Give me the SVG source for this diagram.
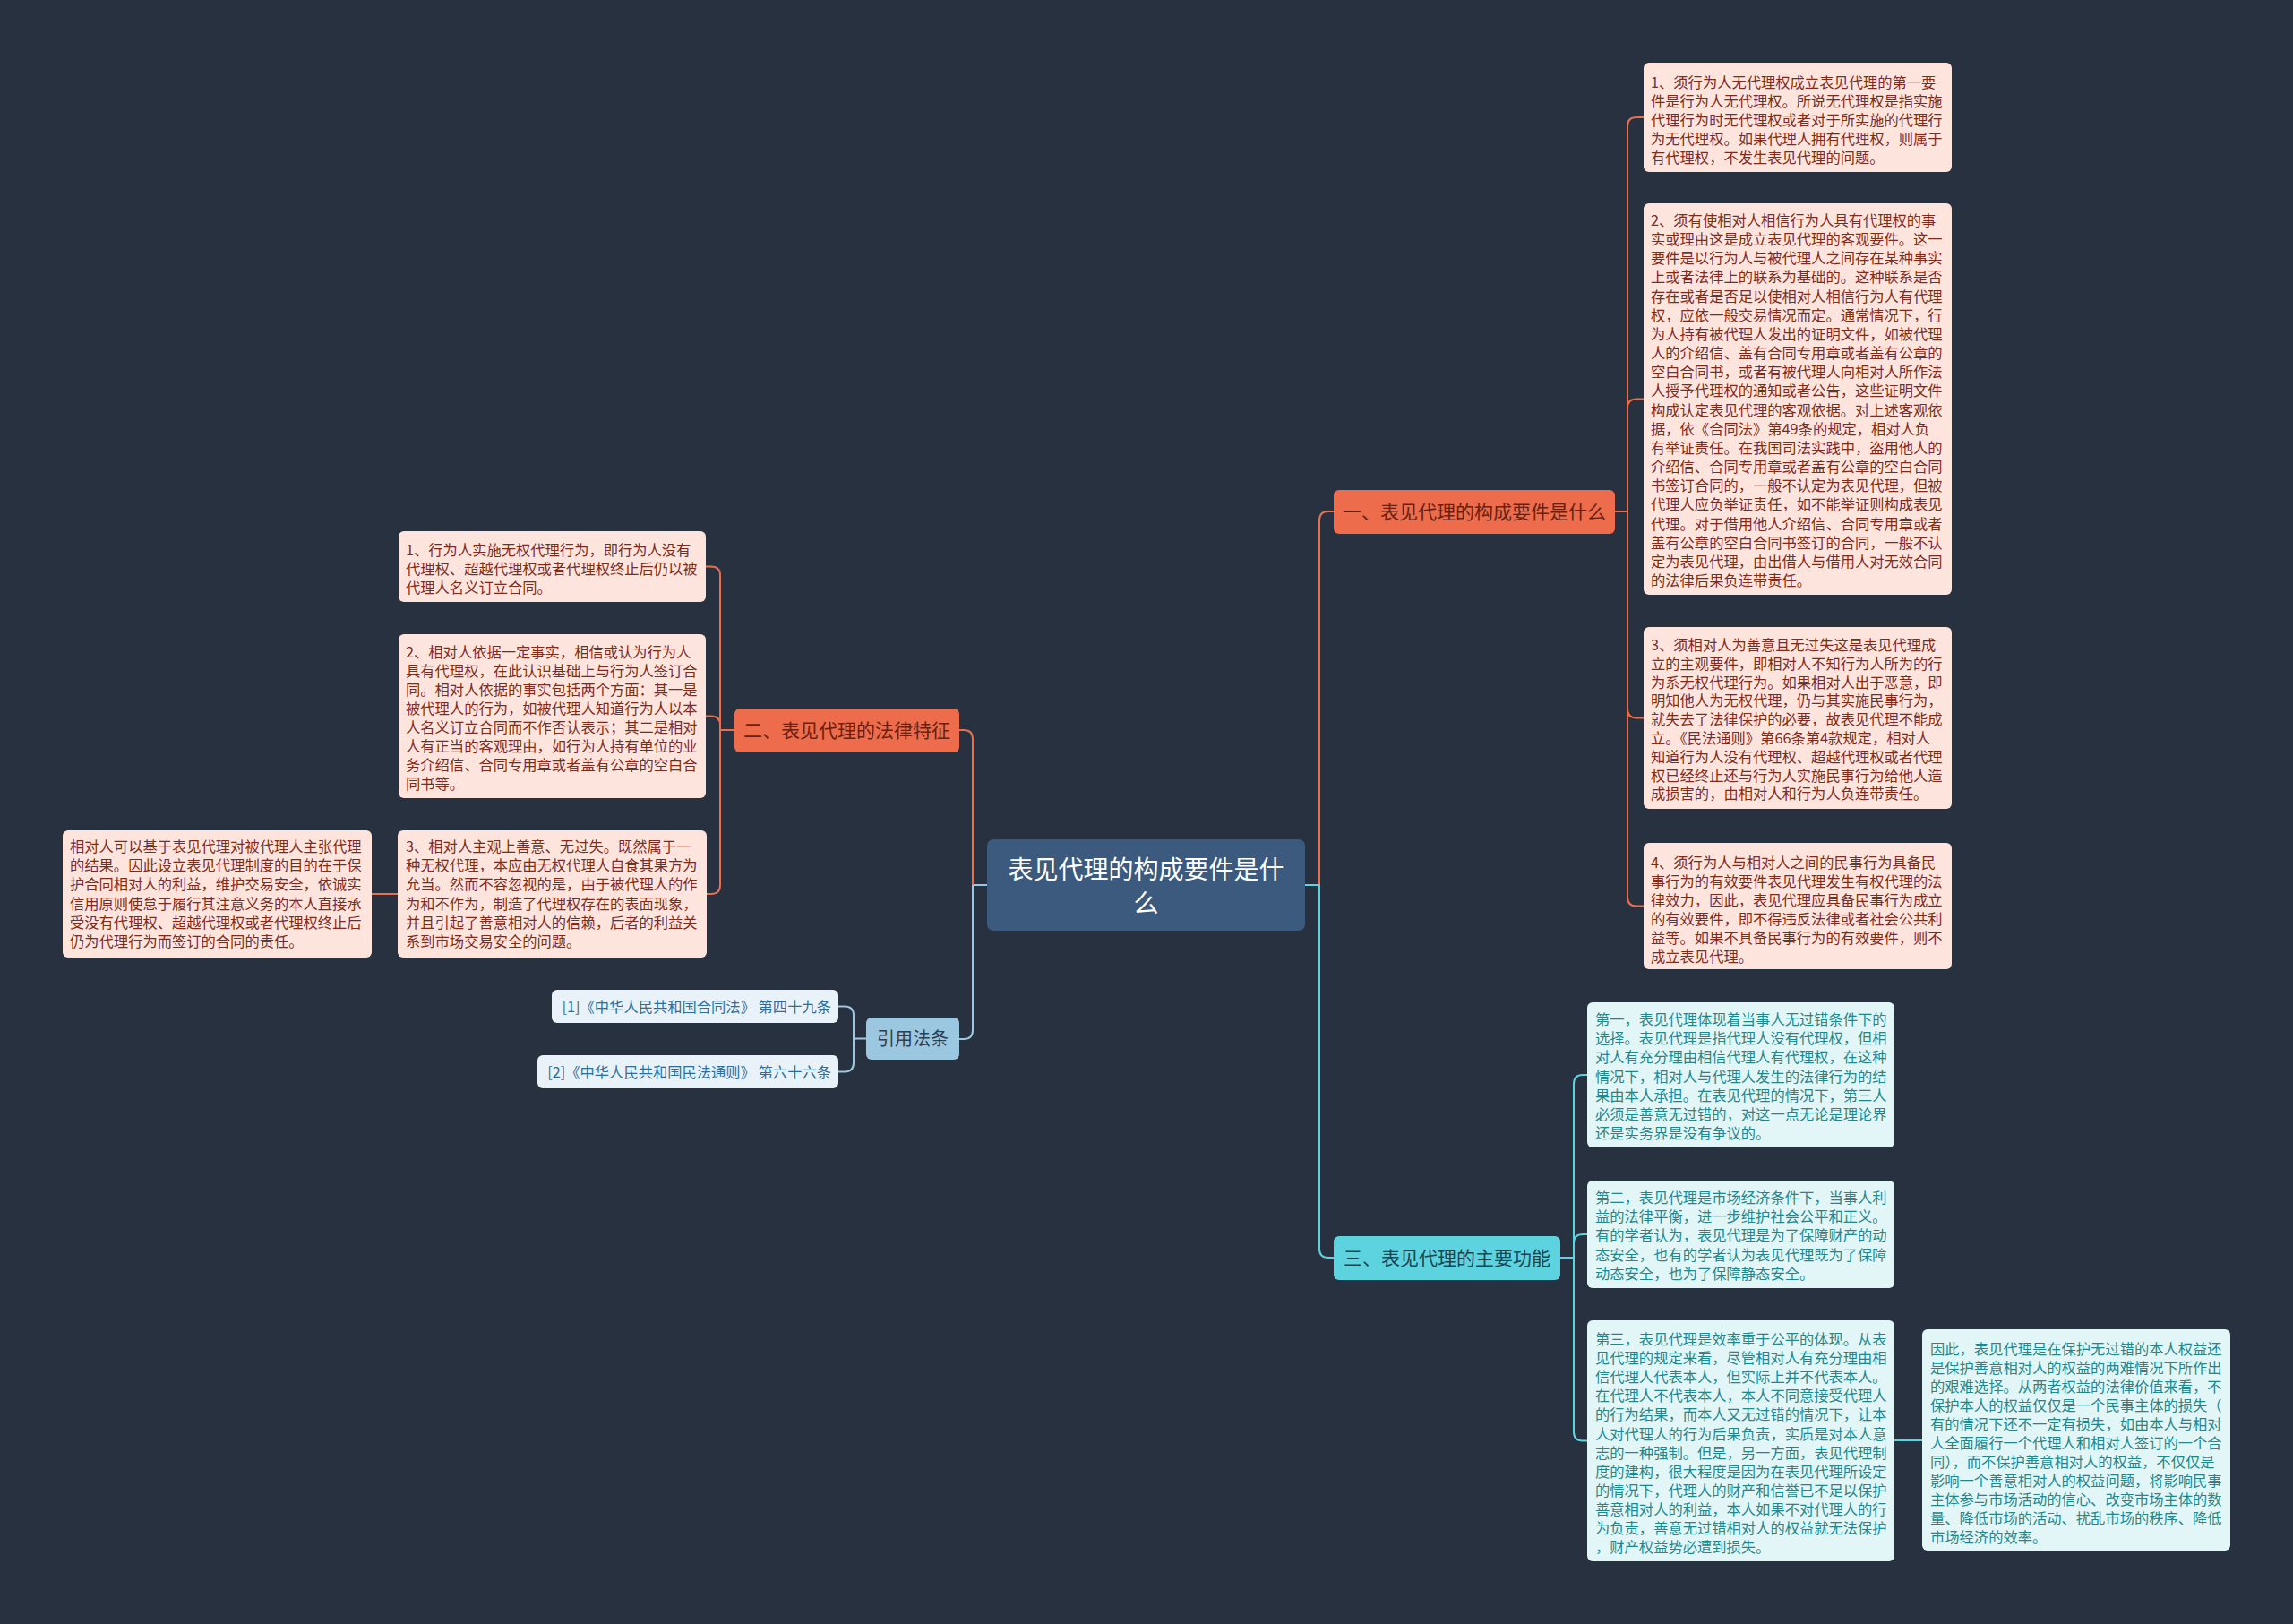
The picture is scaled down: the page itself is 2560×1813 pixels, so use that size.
<svg xmlns="http://www.w3.org/2000/svg" width="2560" height="1813" viewBox="0 0 2560 1813">
<style>
text{font-family:"Noto Sans CJK SC","Noto Sans",sans-serif;}
.pk{fill:#fde5de;}
.pt{fill:#7d2b1c;font-size:16.3px;}
.cy{fill:#e2f6f8;}
.ct{fill:#22878b;font-size:16.3px;}
.rf{fill:#e8f2f8;}
.rt{fill:#2f6e9a;font-size:16.3px;}
.or{fill:#ec6c4c;}
.ot{fill:#6a1f10;font-size:21px;}
.cb{fill:#5ed3e0;}
.cbt{fill:#1b4650;font-size:21px;}
.lo{fill:none;stroke:#e8704f;stroke-width:2;}
.lc{fill:none;stroke:#5ed3e0;stroke-width:2;}
.lb{fill:none;stroke:#9cc7e0;stroke-width:2;}
</style>
<rect width="2560" height="1813" fill="#283140"/>
<g id="connectors">
<path class="lo" d="M1473,988 V581 Q1473,571 1483,571 H1489"/>
<path class="lc" d="M1457,988 H1473 V1394 Q1473,1404 1483,1404 H1489"/>
<path class="lb" d="M1102,988 H1086 V1150 Q1086,1160 1076,1160 H1071"/>
<path class="lo" d="M1086,988 V825 Q1086,815 1076,815 H1071"/>
<path class="lo" d="M1803,571 H1817 V141 Q1817,131 1827,131 H1835"/>
<path class="lo" d="M1817,571 V455.5 Q1817,445.5 1827,445.5 H1835"/>
<path class="lo" d="M1817,571 V791.5 Q1817,801.5 1827,801.5 H1835"/>
<path class="lo" d="M1817,571 V1001.5 Q1817,1011.5 1827,1011.5 H1835"/>
<path class="lc" d="M1742,1404 H1757 V1210 Q1757,1200 1767,1200 H1772"/>
<path class="lc" d="M1757,1404 V1388 Q1757,1378 1767,1378 H1772"/>
<path class="lc" d="M1757,1404 V1598.5 Q1757,1608.5 1767,1608.5 H1772"/>
<path class="lc" d="M2115,1608 H2146"/>
<path class="lo" d="M820,815 H804 V642.5 Q804,632.5 794,632.5 H788"/>
<path class="lo" d="M804,815 V809.5 Q804,799.5 794,799.5 H788"/>
<path class="lo" d="M804,815 V988 Q804,998 794,998 H789"/>
<path class="lo" d="M444,998 H415"/>
<path class="lb" d="M967,1159.5 H953 V1133.5 Q953,1123.5 943,1123.5 H936"/>
<path class="lb" d="M953,1159.5 V1186.5 Q953,1196.5 943,1196.5 H936"/>
</g>
<g id="root">
<rect x="1102" y="937" width="355" height="102" rx="7" fill="#3c5a7e"/>
<text x="1279.5" y="981" font-size="28" fill="#ffffff" text-anchor="middle">表见代理的构成要件是什</text>
<text x="1279.5" y="1019" font-size="28" fill="#ffffff" text-anchor="middle">么</text>
</g>
<g id="b1">
<rect class="or" x="1489" y="547" width="314" height="49" rx="6"/>
<text class="ot" x="1646" y="579" text-anchor="middle">一、表见代理的构成要件是什么</text>
</g>
<g id="b2">
<rect class="or" x="820" y="791" width="251" height="49" rx="6"/>
<text class="ot" x="945.5" y="823" text-anchor="middle">二、表见代理的法律特征</text>
</g>
<g id="b3">
<rect class="cb" x="1489" y="1380" width="253" height="49" rx="6"/>
<text class="cbt" x="1615.5" y="1412" text-anchor="middle">三、表见代理的主要功能</text>
</g>
<g id="b4">
<rect x="967" y="1136" width="104" height="47" rx="6" fill="#9cc7e0"/>
<text x="1019" y="1167" font-size="20" fill="#2c3e50" text-anchor="middle">引用法条</text>
</g>
<g id="r1">
<rect class="pk" x="1835" y="70" width="344" height="122" rx="6"/>
<text class="pt" x="1843" y="98"><tspan x="1843">1、须行为人无代理权成立表见代理的第一要</tspan><tspan x="1843" dy="21.1">件是行为人无代理权。所说无代理权是指实施</tspan><tspan x="1843" dy="21.1">代理行为时无代理权或者对于所实施的代理行</tspan><tspan x="1843" dy="21.1">为无代理权。如果代理人拥有代理权，则属于</tspan><tspan x="1843" dy="21.1">有代理权，不发生表见代理的问题。</tspan></text>
</g>
<g id="r2">
<rect class="pk" x="1835" y="227" width="344" height="437" rx="6"/>
<text class="pt" x="1843" y="252"><tspan x="1843">2、须有使相对人相信行为人具有代理权的事</tspan><tspan x="1843" dy="21.16">实或理由这是成立表见代理的客观要件。这一</tspan><tspan x="1843" dy="21.16">要件是以行为人与被代理人之间存在某种事实</tspan><tspan x="1843" dy="21.16">上或者法律上的联系为基础的。这种联系是否</tspan><tspan x="1843" dy="21.16">存在或者是否足以使相对人相信行为人有代理</tspan><tspan x="1843" dy="21.16">权，应依一般交易情况而定。通常情况下，行</tspan><tspan x="1843" dy="21.16">为人持有被代理人发出的证明文件，如被代理</tspan><tspan x="1843" dy="21.16">人的介绍信、盖有合同专用章或者盖有公章的</tspan><tspan x="1843" dy="21.16">空白合同书，或者有被代理人向相对人所作法</tspan><tspan x="1843" dy="21.16">人授予代理权的通知或者公告，这些证明文件</tspan><tspan x="1843" dy="21.16">构成认定表见代理的客观依据。对上述客观依</tspan><tspan x="1843" dy="21.16">据，依《合同法》第49条的规定，相对人负</tspan><tspan x="1843" dy="21.16">有举证责任。在我国司法实践中，盗用他人的</tspan><tspan x="1843" dy="21.16">介绍信、合同专用章或者盖有公章的空白合同</tspan><tspan x="1843" dy="21.16">书签订合同的，一般不认定为表见代理，但被</tspan><tspan x="1843" dy="21.16">代理人应负举证责任，如不能举证则构成表见</tspan><tspan x="1843" dy="21.16">代理。对于借用他人介绍信、合同专用章或者</tspan><tspan x="1843" dy="21.16">盖有公章的空白合同书签订的合同，一般不认</tspan><tspan x="1843" dy="21.16">定为表见代理，由出借人与借用人对无效合同</tspan><tspan x="1843" dy="21.16">的法律后果负连带责任。</tspan></text>
</g>
<g id="r3">
<rect class="pk" x="1835" y="700" width="344" height="203" rx="6"/>
<text class="pt" x="1843" y="726"><tspan x="1843">3、须相对人为善意且无过失这是表见代理成</tspan><tspan x="1843" dy="20.8">立的主观要件，即相对人不知行为人所为的行</tspan><tspan x="1843" dy="20.8">为系无权代理行为。如果相对人出于恶意，即</tspan><tspan x="1843" dy="20.8">明知他人为无权代理，仍与其实施民事行为，</tspan><tspan x="1843" dy="20.8">就失去了法律保护的必要，故表见代理不能成</tspan><tspan x="1843" dy="20.8">立。《民法通则》第66条第4款规定，相对人</tspan><tspan x="1843" dy="20.8">知道行为人没有代理权、超越代理权或者代理</tspan><tspan x="1843" dy="20.8">权已经终止还与行为人实施民事行为给他人造</tspan><tspan x="1843" dy="20.8">成损害的，由相对人和行为人负连带责任。</tspan></text>
</g>
<g id="r4">
<rect class="pk" x="1835" y="941" width="344" height="141" rx="6"/>
<text class="pt" x="1843" y="969"><tspan x="1843">4、须行为人与相对人之间的民事行为具备民</tspan><tspan x="1843" dy="21">事行为的有效要件表见代理发生有权代理的法</tspan><tspan x="1843" dy="21">律效力，因此，表见代理应具备民事行为成立</tspan><tspan x="1843" dy="21">的有效要件，即不得违反法律或者社会公共利</tspan><tspan x="1843" dy="21">益等。如果不具备民事行为的有效要件，则不</tspan><tspan x="1843" dy="21">成立表见代理。</tspan></text>
</g>
<g id="c1">
<rect class="cy" x="1772" y="1119" width="343" height="162" rx="6"/>
<text class="ct" x="1781" y="1144"><tspan x="1781">第一，表见代理体现着当事人无过错条件下的</tspan><tspan x="1781" dy="21.2">选择。表见代理是指代理人没有代理权，但相</tspan><tspan x="1781" dy="21.2">对人有充分理由相信代理人有代理权，在这种</tspan><tspan x="1781" dy="21.2">情况下，相对人与代理人发生的法律行为的结</tspan><tspan x="1781" dy="21.2">果由本人承担。在表见代理的情况下，第三人</tspan><tspan x="1781" dy="21.2">必须是善意无过错的，对这一点无论是理论界</tspan><tspan x="1781" dy="21.2">还是实务界是没有争议的。</tspan></text>
</g>
<g id="c2">
<rect class="cy" x="1772" y="1318" width="343" height="120" rx="6"/>
<text class="ct" x="1781" y="1343"><tspan x="1781">第二，表见代理是市场经济条件下，当事人利</tspan><tspan x="1781" dy="21.2">益的法律平衡，进一步维护社会公平和正义。</tspan><tspan x="1781" dy="21.2">有的学者认为，表见代理是为了保障财产的动</tspan><tspan x="1781" dy="21.2">态安全，也有的学者认为表见代理既为了保障</tspan><tspan x="1781" dy="21.2">动态安全，也为了保障静态安全。</tspan></text>
</g>
<g id="c3">
<rect class="cy" x="1772" y="1474" width="343" height="269" rx="6"/>
<text class="ct" x="1781" y="1501"><tspan x="1781">第三，表见代理是效率重于公平的体现。从表</tspan><tspan x="1781" dy="21.1">见代理的规定来看，尽管相对人有充分理由相</tspan><tspan x="1781" dy="21.1">信代理人代表本人，但实际上并不代表本人。</tspan><tspan x="1781" dy="21.1">在代理人不代表本人，本人不同意接受代理人</tspan><tspan x="1781" dy="21.1">的行为结果，而本人又无过错的情况下，让本</tspan><tspan x="1781" dy="21.1">人对代理人的行为后果负责，实质是对本人意</tspan><tspan x="1781" dy="21.1">志的一种强制。但是，另一方面，表见代理制</tspan><tspan x="1781" dy="21.1">度的建构，很大程度是因为在表见代理所设定</tspan><tspan x="1781" dy="21.1">的情况下，代理人的财产和信誉已不足以保护</tspan><tspan x="1781" dy="21.1">善意相对人的利益，本人如果不对代理人的行</tspan><tspan x="1781" dy="21.1">为负责，善意无过错相对人的权益就无法保护</tspan><tspan x="1781" dy="21.1">，财产权益势必遭到损失。</tspan></text>
</g>
<g id="c4">
<rect class="cy" x="2146" y="1484" width="344" height="247" rx="6"/>
<text class="ct" x="2155" y="1512"><tspan x="2155">因此，表见代理是在保护无过错的本人权益还</tspan><tspan x="2155" dy="21">是保护善意相对人的权益的两难情况下所作出</tspan><tspan x="2155" dy="21">的艰难选择。从两者权益的法律价值来看，不</tspan><tspan x="2155" dy="21">保护本人的权益仅仅是一个民事主体的损失（</tspan><tspan x="2155" dy="21">有的情况下还不一定有损失，如由本人与相对</tspan><tspan x="2155" dy="21">人全面履行一个代理人和相对人签订的一个合</tspan><tspan x="2155" dy="21">同），而不保护善意相对人的权益，不仅仅是</tspan><tspan x="2155" dy="21">影响一个善意相对人的权益问题，将影响民事</tspan><tspan x="2155" dy="21">主体参与市场活动的信心、改变市场主体的数</tspan><tspan x="2155" dy="21">量、降低市场的活动、扰乱市场的秩序、降低</tspan><tspan x="2155" dy="21">市场经济的效率。</tspan></text>
</g>
<g id="l1">
<rect class="pk" x="445" y="593" width="343" height="79" rx="6"/>
<text class="pt" x="453" y="620"><tspan x="453">1、行为人实施无权代理行为，即行为人没有</tspan><tspan x="453" dy="21">代理权、超越代理权或者代理权终止后仍以被</tspan><tspan x="453" dy="21">代理人名义订立合同。</tspan></text>
</g>
<g id="l2">
<rect class="pk" x="445" y="708" width="343" height="183" rx="6"/>
<text class="pt" x="453" y="734"><tspan x="453">2、相对人依据一定事实，相信或认为行为人</tspan><tspan x="453" dy="21">具有代理权，在此认识基础上与行为人签订合</tspan><tspan x="453" dy="21">同。相对人依据的事实包括两个方面：其一是</tspan><tspan x="453" dy="21">被代理人的行为，如被代理人知道行为人以本</tspan><tspan x="453" dy="21">人名义订立合同而不作否认表示；其二是相对</tspan><tspan x="453" dy="21">人有正当的客观理由，如行为人持有单位的业</tspan><tspan x="453" dy="21">务介绍信、合同专用章或者盖有公章的空白合</tspan><tspan x="453" dy="21">同书等。</tspan></text>
</g>
<g id="l3">
<rect class="pk" x="444" y="927" width="345" height="142" rx="6"/>
<text class="pt" x="453" y="951"><tspan x="453">3、相对人主观上善意、无过失。既然属于一</tspan><tspan x="453" dy="21.2">种无权代理，本应由无权代理人自食其果方为</tspan><tspan x="453" dy="21.2">允当。然而不容忽视的是，由于被代理人的作</tspan><tspan x="453" dy="21.2">为和不作为，制造了代理权存在的表面现象，</tspan><tspan x="453" dy="21.2">并且引起了善意相对人的信赖，后者的利益关</tspan><tspan x="453" dy="21.2">系到市场交易安全的问题。</tspan></text>
</g>
<g id="l4">
<rect class="pk" x="70" y="927" width="345" height="142" rx="6"/>
<text class="pt" x="78" y="951"><tspan x="78">相对人可以基于表见代理对被代理人主张代理</tspan><tspan x="78" dy="21.2">的结果。因此设立表见代理制度的目的在于保</tspan><tspan x="78" dy="21.2">护合同相对人的利益，维护交易安全，依诚实</tspan><tspan x="78" dy="21.2">信用原则使怠于履行其注意义务的本人直接承</tspan><tspan x="78" dy="21.2">受没有代理权、超越代理权或者代理权终止后</tspan><tspan x="78" dy="21.2">仍为代理行为而签订的合同的责任。</tspan></text>
</g>
<g id="ref1">
<rect class="rf" x="616" y="1105" width="320" height="37" rx="6"/>
<text class="rt" x="928" y="1130" text-anchor="end">[1]《中华人民共和国合同法》 第四十九条</text>
</g>
<g id="ref2">
<rect class="rf" x="600" y="1178" width="336" height="37" rx="6"/>
<text class="rt" x="928" y="1203" text-anchor="end">[2]《中华人民共和国民法通则》 第六十六条</text>
</g>
</svg>
